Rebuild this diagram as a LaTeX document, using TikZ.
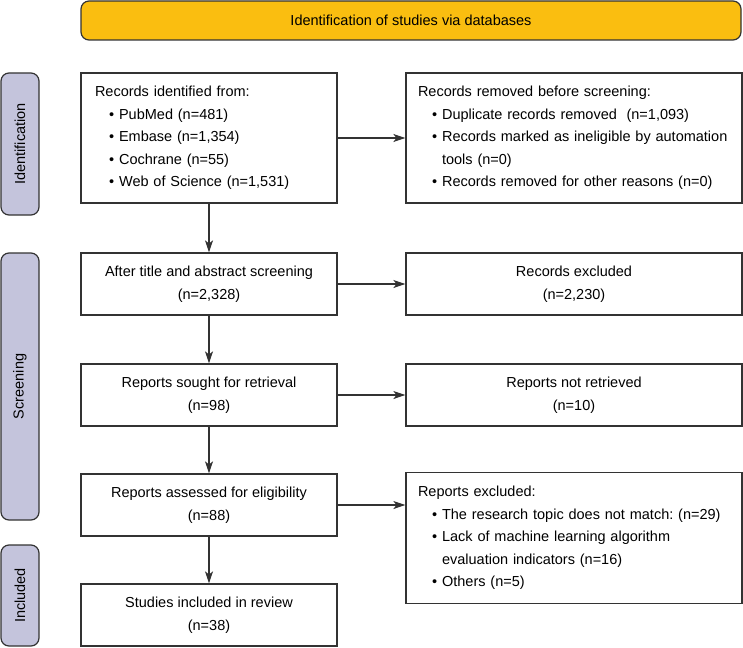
\documentclass[tikz,border=0pt]{standalone}
\usepackage{fontspec}
\setmainfont{Liberation Sans}
\usetikzlibrary{arrows.meta}
\definecolor{bannerfill}{RGB}{250,190,16}
\definecolor{phasefill}{RGB}{196,196,220}
\definecolor{edgegray}{RGB}{51,51,51}
\newcommand{\prbul}{\hspace*{14pt}\textbullet\hspace{5pt}}
\newcommand{\prgap}{\hspace*{14pt}\phantom{\textbullet}\hspace{5pt}}
\frenchspacing

\begin{document}
\begin{tikzpicture}[
  x=1pt, y=-1pt,
  every node/.style={font=\fontsize{14.5}{22.5}\selectfont, inner sep=0pt},
  box/.style={draw=edgegray, line width=1.2pt, fill=white, align=center},
  leftbox/.style={box, minimum width=256pt},
  rightbox/.style={box, minimum width=336pt},
  listleft/.style={box, align=left, inner xsep=14pt, text width=228pt},
  listright/.style={box, align=left, inner xsep=12pt, text width=312pt},
  phase/.style={draw=edgegray, line width=1.2pt, fill=phasefill, rounded corners=8pt,
    rotate=90, minimum height=38pt},
  flow/.style={draw=edgegray, line width=1.2pt, -{Stealth[length=12pt, width=8pt, inset=3pt]}}
]
  \useasboundingbox (0,0) rectangle (743,647);

  % Banner and phases
  \node[draw=edgegray, line width=1.2pt, fill=bannerfill, rounded corners=8pt,
    minimum width=660pt, minimum height=39pt] (banner) at (411,20.5)
    {Identification of studies via databases};
  \node[phase, minimum width=142pt] (ident) at (20,144) {Identification};
  \node[phase, minimum width=267pt] (screen) at (20,386.5) {Screening};
  \node[phase, minimum width=101pt] (incl) at (20,595.5) {Included};

  % Left column
  \node[listleft, minimum height=130pt] (records) at (209,138)
    {Records identified from:\\
     \prbul PubMed (n=481)\\
     \prbul Embase (n=1,354)\\
     \prbul Cochrane (n=55)\\
     \prbul Web of Science (n=1,531)};
  \node[leftbox, minimum height=62pt] (titlescr) at (209,284)
    {After title and abstract screening\\(n=2,328)};
  \node[leftbox, minimum height=62pt] (sought) at (209,395)
    {Reports sought for retrieval\\(n=98)};
  \node[leftbox, minimum height=62pt] (assessed) at (209,505)
    {Reports assessed for eligibility\\(n=88)};
  \node[leftbox, minimum height=62pt] (included) at (209,615)
    {Studies included in review\\(n=38)};

  % Right column
  \node[listright, minimum height=130pt] (removed) at (574,138)
    {Records removed before screening:\\
     \prbul Duplicate records removed\ \ (n=1,093)\\
     \prbul Records marked as ineligible by automation\\
     \prgap tools (n=0)\\
     \prbul Records removed for other reasons (n=0)};
  \node[rightbox, minimum height=62pt] (excluded) at (574,284)
    {Records excluded\\(n=2,230)};
  \node[rightbox, minimum height=62pt] (notretr) at (574,395)
    {Reports not retrieved\\(n=10)};
  \node[listright, minimum height=131pt] (repexcl) at (574,538)
    {Reports excluded:\\
     \prbul The research topic does not match: (n=29)\\
     \prbul Lack of machine learning algorithm\\
     \prgap evaluation indicators (n=16)\\
     \prbul Others (n=5)};

  % Connectors
  \draw[flow] (records) -- (titlescr);
  \draw[flow] (titlescr) -- (sought);
  \draw[flow] (sought) -- (assessed);
  \draw[flow] (assessed) -- (included);
  \draw[flow] (records) -- (removed);
  \draw[flow] (titlescr) -- (excluded);
  \draw[flow] (sought) -- (notretr);
  \draw[flow] (assessed.east) -- (assessed.east -| repexcl.west);

\end{tikzpicture}
\end{document}
